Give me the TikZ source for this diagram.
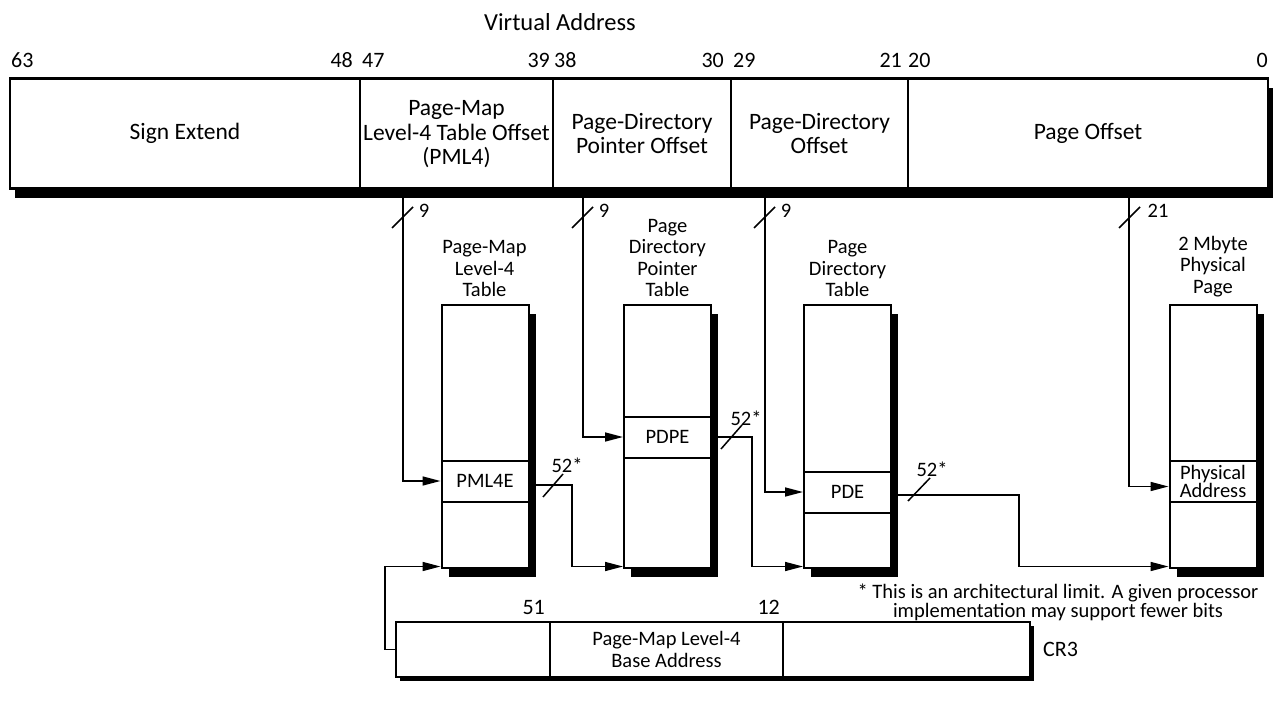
\documentclass[tikz,border=0pt]{standalone}
\usepackage{fontspec}
\setmainfont{Carlito}
\usetikzlibrary{arrows.meta,shadows,calc}
\begin{document}
\begin{tikzpicture}[x=1pt,y=-1pt,
  fld/.style={inner sep=0,minimum height=110pt,align=center,font=\fontsize{23.5}{24.5}\selectfont},
  bit/.style={inner sep=0,font=\fontsize{22}{24}\selectfont},
  ttl/.style={inner sep=0,align=center,anchor=south,font=\fontsize{20.5}{21.5}\selectfont},
  tbl/.style={draw,line width=2pt,fill=white,minimum width=87pt,minimum height=263pt,inner sep=0,
    drop shadow={shadow xshift=7pt,shadow yshift=-9pt,opacity=1,fill=black}},
  ent/.style={draw,line width=2pt,fill=white,minimum width=87pt,minimum height=41pt,inner sep=0,align=center,font=\fontsize{20.5}{17}\selectfont},
  conn/.style={line width=1.6pt},
  arr/.style={conn,-{Triangle[length=18pt,width=9pt]}},
  slash/.style={line width=1.5pt},
  wid/.style={inner sep=0,font=\fontsize{20.5}{22}\selectfont},
]
\useasboundingbox (0,0) rectangle (1274,709);

% title
\node[inner sep=0,font=\fontsize{24.5}{26}\selectfont] (vt) at (560,22) {Virtual Address};

% bit numbers
\node[bit,anchor=west] (b63) at (11,60) {63};
\node[bit,anchor=east] (b48) at (353,60) {48};
\node[bit,anchor=west] (b47) at (362,60) {47};
\node[bit,anchor=east] (b39) at (550,60) {39};
\node[bit,anchor=west] (b38) at (554,60) {38};
\node[bit,anchor=east] (b30) at (724,60) {30};
\node[bit,anchor=west] (b29) at (733,60) {29};
\node[bit,anchor=east] (b21) at (902,60) {21};
\node[bit,anchor=west] (b20) at (908,60) {20};
\node[bit,anchor=east] (b0) at (1268,60) {0};

% virtual address bar
\node[draw,line width=2.5pt,fill=white,minimum width=1258pt,minimum height=110pt,inner sep=0,
  drop shadow={shadow xshift=5pt,shadow yshift=-9pt,opacity=1,fill=black}] (va) at (639,133.5) {};
\node[fld,minimum width=350pt] (f1) at (185,133.5) {Sign Extend};
\node[fld,minimum width=193pt] (f2) at (456.5,134.5) {Page-Map\\Level-4 Table Offset\\(PML4)};
\node[fld,minimum width=178pt] (f3) at (642,133.5) {Page-Directory\\Pointer Offset};
\node[fld,minimum width=177pt] (f4) at (819.5,133.5) {Page-Directory\\Offset};
\node[fld,minimum width=360pt] (f5) at (1088,133.5) {Page Offset};
\foreach \f in {f1,f3,f4}
  \draw[line width=1.8pt] (\f.north east) -- (\f.south east);
\draw[line width=1.8pt] (f2.north east |- va.north) -- (f2.south east |- va.south);

% drop points
\coordinate (d1) at (403,197);
\coordinate (d2) at (583,197);
\coordinate (d3) at (765,197);
\coordinate (d4) at (1129,197);

% tables
\node[ttl] (h1) at (484.5,297) {Page-Map\\Level-4\\Table};
\node[ttl] (h2) at (667.5,297) {Page\\Directory\\Pointer\\Table};
\node[ttl] (h3) at (847.5,297) {Page\\Directory\\Table};
\node[ttl] (h4) at (1213,297) {2 Mbyte\\Physical\\Page};

\node[tbl] (t1) at (485,436) {};
\node[tbl] (t2) at (667.5,436) {};
\node[tbl] (t3) at (847.5,436) {};
\node[tbl] (t4) at (1213,436) {};
\node[ent] (e1) at (485,481) {PML4E};
\node[ent] (e2) at (667.5,437) {PDPE};
\node[ent] (e3) at (847.5,492) {PDE};
\node[ent] (e4) at (1213,481.5) {Physical\\Address};

% index arrows
\draw[arr] (d1) |- (e1.west);
\draw[arr] (d2) |- (e2.west);
\draw[arr] (d3) |- (e3.west);
\draw[arr] (d4) |- ([yshift=-5pt]e4.west);
\draw[slash] (392,228) -- (413,207);
\node[wid] (n1) at (424,211) {9};
\draw[slash] (572,228) -- (593,207);
\node[wid] (n2) at (604,211) {9};
\draw[slash] (754,228) -- (775,207);
\node[wid] (n3) at (786,211) {9};
\draw[slash] (1119,228) -- (1140,207);
\node[wid] (n4) at (1158,211) {21};

% entry to next table
\coordinate (k1) at (572,0);
\coordinate (k2) at (752,0);
\coordinate (k3) at (1019,0);
\coordinate (k0) at (385,0);
\coordinate (s2) at ([yshift=2pt]t2.south west);
\coordinate (s3) at ([yshift=2pt]t3.south west);
\coordinate (s4) at ([yshift=2pt]t4.south west);
\coordinate (s1) at ([yshift=2pt]t1.south west);
\coordinate (o1) at ([yshift=-4pt]e1.east);
\coordinate (o3) at ([yshift=-3pt]e3.east);
\draw[arr] (o1) -| (k1 |- s2) -- (s2);
\draw[arr] (e2.east) -| (k2 |- s3) -- (s3);
\draw[arr] (o3) -| (k3 |- s4) -- (s4);
\draw[slash] (543,497) -- (563,474);
\node[wid] (m1) at (567,465) {52*};
\draw[slash] (721,449) -- (742,425);
\node[wid] (m2) at (746,418) {52*};
\draw[slash] (908,501) -- (930,478);
\node[wid] (m3) at (932,469) {52*};

% footnote
\node[inner sep=0,align=center,font=\fontsize{20.5}{19.5}\selectfont] (fn) at (1058,602.5)
  {* This is an architectural limit. A given processor\\implementation may support fewer bits};

% CR3
\node[draw,line width=1.8pt,fill=white,minimum width=634pt,minimum height=55pt,inner sep=0,
  drop shadow={shadow xshift=4pt,shadow yshift=-4pt,opacity=1,fill=black}] (cr) at (713,649.5) {};
\node[inner sep=0,minimum width=154pt,minimum height=55pt] (c1) at (473,649.5) {};
\node[inner sep=0,minimum width=233pt,minimum height=55pt,align=center,font=\fontsize{20.5}{22}\selectfont] (c2) at (666.5,649.5) {Page-Map Level-4\\Base Address};
\node[inner sep=0,minimum width=247pt,minimum height=55pt] (c3) at (906.5,649.5) {};
\draw[line width=1.8pt] (c1.north east) -- (c1.south east);
\draw[line width=1.8pt] (c2.north east) -- (c2.south east);
\node[inner sep=0,font=\fontsize{22}{24}\selectfont,anchor=east] (l51) at (545,607) {51};
\node[inner sep=0,font=\fontsize{22}{24}\selectfont,anchor=east] (l12) at (780,607) {12};
\node[inner sep=0,font=\fontsize{22}{24}\selectfont,anchor=west] (lcr) at (1043,649) {CR3};
\draw[arr] (c1.west) -| (k0 |- s1) -- (s1);
\end{tikzpicture}
\end{document}
